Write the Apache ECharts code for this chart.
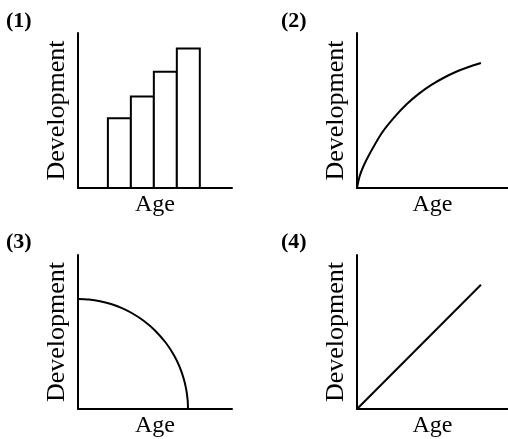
<!DOCTYPE html>
<html>
<head>
<meta charset="utf-8">
<script src="https://cdn.jsdelivr.net/npm/echarts@6/dist/echarts.min.js"></script>
<style>
  html, body { margin: 0; padding: 0; background: #fff; }
  #chart { width: 508px; height: 439px; }
</style>
</head>
<body>
<div id="chart"></div>
<script>
// (1) bars by age group
const barAges = [1, 2, 3, 4]
const barDevelopment = [4.5, 5.9, 7.5, 9.0]

// (2) fast then levelling off
const curveRise = [
  [0, 0], [0.02, 0.09], [0.05, 0.17], [0.1, 0.27], [0.2, 0.44], [0.3, 0.565],
  [0.4, 0.67], [0.5, 0.755], [0.6, 0.825], [0.7, 0.882], [0.8, 0.93],
  [0.9, 0.968], [1.0, 1.0]
]

// (3) quarter arc falling to zero
const curveFall = [
  [0, 1], [0.1, 0.995], [0.2, 0.98], [0.3, 0.954], [0.4, 0.917], [0.5, 0.866],
  [0.6, 0.8], [0.7, 0.714], [0.8, 0.6], [0.87, 0.493], [0.92, 0.392],
  [0.96, 0.28], [0.985, 0.172], [0.997, 0.077], [1, 0]
]

// (4) straight line
const lineStraight = [[0, 0], [1, 1]]

const panelLabels = ['(1)', '(2)', '(3)', '(4)']
const xName = 'Age'
const yName = 'Development'

const serif = '"Liberation Serif", "DejaVu Serif", serif'

const grids = [
  { left: 78, top: 33, width: 154, height: 155 },
  { left: 357, top: 33, width: 151, height: 155 },
  { left: 78, top: 255, width: 154, height: 154 },
  { left: 357, top: 255, width: 151, height: 154 }
]
const xRanges = [[-0.8, 5.9], [0, 1.218], [0, 1.4], [0, 1.218]]
const yRanges = [[0, 10], [0, 1.24], [0, 1.4], [0, 1.24]]

function xAxisFor(i) {
  return {
    gridIndex: i, type: 'value', min: xRanges[i][0], max: xRanges[i][1],
    name: xName, nameLocation: 'middle', nameGap: 5,
    nameTextStyle: { fontFamily: serif, fontSize: 24, color: '#000', verticalAlign: 'top' },
    axisLine: { onZero: false, lineStyle: { color: '#000', width: 2 } },
    axisTick: { show: false }, axisLabel: { show: false }, splitLine: { show: false }
  }
}
function yAxisFor(i) {
  return {
    gridIndex: i, type: 'value', min: yRanges[i][0], max: yRanges[i][1],
    name: yName, nameLocation: 'middle', nameGap: 8, nameRotate: 90,
    nameTextStyle: { fontFamily: serif, fontSize: 26, color: '#000' },
    axisLine: { show: true, onZero: false, lineStyle: { color: '#000', width: 2 } },
    axisTick: { show: false }, axisLabel: { show: false }, splitLine: { show: false }
  }
}

const lineStyle = { color: '#000', width: 2 }

const chart = echarts.init(document.getElementById('chart'))
chart.setOption({
  backgroundColor: '#fff',
  animation: false,
  grid: grids,
  xAxis: [0, 1, 2, 3].map(xAxisFor),
  yAxis: [0, 1, 2, 3].map(yAxisFor),
  graphic: [
    [6, 10], [281, 10], [6, 231], [281, 231]
  ].map((p, i) => ({
    type: 'text', left: p[0], top: p[1],
    style: { text: panelLabels[i], font: 'bold 22px ' + serif, fill: '#000' }
  })),
  series: [
    {
      type: 'custom', xAxisIndex: 0, yAxisIndex: 0,
      data: barAges.map((a, k) => [a, barDevelopment[k]]),
      renderItem(params, api) {
        const x = api.value(0)
        const p0 = api.coord([x - 0.5, api.value(1)])
        const p1 = api.coord([x + 0.5, 0])
        return {
          type: 'rect',
          shape: { x: p0[0], y: p0[1], width: p1[0] - p0[0], height: p1[1] - p0[1] },
          style: { fill: '#fff', stroke: '#000', lineWidth: 2 }
        }
      }
    },
    {
      type: 'line', xAxisIndex: 1, yAxisIndex: 1, data: curveRise,
      smooth: 0.3, showSymbol: false, symbol: 'none', lineStyle
    },
    {
      type: 'line', xAxisIndex: 2, yAxisIndex: 2, data: curveFall,
      smooth: 0.3, showSymbol: false, symbol: 'none', lineStyle
    },
    {
      type: 'line', xAxisIndex: 3, yAxisIndex: 3, data: lineStraight,
      showSymbol: false, symbol: 'none', lineStyle
    }
  ]
})
</script>
</body>
</html>
